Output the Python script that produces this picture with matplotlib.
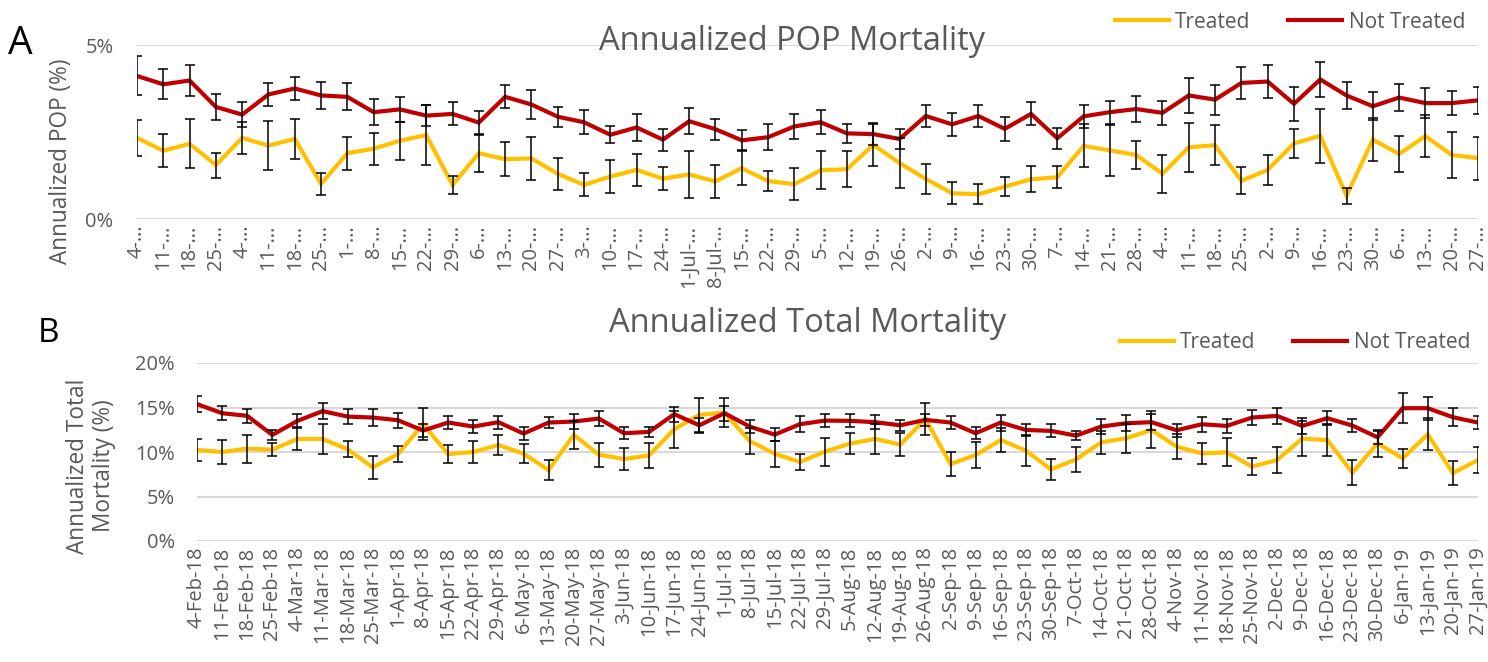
import matplotlib
matplotlib.use("Agg")
import matplotlib.pyplot as plt
from matplotlib.lines import Line2D
import numpy as np

plt.rcParams['font.family'] = ['Open Sans', 'DejaVu Sans']

# week labels
weeks = ["4-Feb-18", "11-Feb-18", "18-Feb-18", "25-Feb-18", "4-Mar-18", "11-Mar-18",
         "18-Mar-18", "25-Mar-18", "1-Apr-18", "8-Apr-18", "15-Apr-18", "22-Apr-18",
         "29-Apr-18", "6-May-18", "13-May-18", "20-May-18", "27-May-18", "3-Jun-18",
         "10-Jun-18", "17-Jun-18", "24-Jun-18", "1-Jul-18", "8-Jul-18", "15-Jul-18",
         "22-Jul-18", "29-Jul-18", "5-Aug-18", "12-Aug-18", "19-Aug-18", "26-Aug-18",
         "2-Sep-18", "9-Sep-18", "16-Sep-18", "23-Sep-18", "30-Sep-18", "7-Oct-18",
         "14-Oct-18", "21-Oct-18", "28-Oct-18", "4-Nov-18", "11-Nov-18", "18-Nov-18",
         "25-Nov-18", "2-Dec-18", "9-Dec-18", "16-Dec-18", "23-Dec-18", "30-Dec-18",
         "6-Jan-19", "13-Jan-19", "20-Jan-19", "27-Jan-19"]

# truncated labels as shown on panel A
weeks_short = ["4-…", "11-…", "18-…", "25-…", "4-…", "11-…", "18-…", "25-…", "1-…",
               "8-…", "15-…", "22-…", "29-…", "6-…", "13-…", "20-…", "27-…", "3-…",
               "10-…", "17-…", "24-…", "1-Jul-…", "8-Jul-…", "15-…", "22-…", "29-…",
               "5-…", "12-…", "19-…", "26-…", "2-…", "9-…", "16-…", "23-…", "30-…",
               "7-…", "14-…", "21-…", "28-…", "4-…", "11-…", "18-…", "25-…", "2-…",
               "9-…", "16-…", "23-…", "30-…", "6-…", "13-…", "20-…", "27-…"]

# Panel A: annualized POP mortality (%)
pop_treated = [2.33, 1.96, 2.16, 1.55, 2.33, 2.11, 2.30, 1.01, 1.89, 2.02, 2.25, 2.41,
               0.98, 1.89, 1.72, 1.74, 1.30, 0.98, 1.22, 1.41, 1.16, 1.28, 1.08, 1.46,
               1.09, 1.00, 1.40, 1.43, 2.13, 1.61, 1.15, 0.74, 0.71, 0.93, 1.14, 1.20,
               2.10, 1.97, 1.84, 1.30, 2.06, 2.12, 1.10, 1.41, 2.17, 2.39, 0.67, 2.28,
               1.87, 2.38, 1.84, 1.75]
pop_treated_err = [0.51, 0.48, 0.70, 0.36, 0.46, 0.70, 0.57, 0.31, 0.47, 0.46, 0.55, 0.87,
                   0.27, 0.53, 0.49, 0.61, 0.46, 0.33, 0.47, 0.46, 0.32, 0.67, 0.47, 0.49,
                   0.28, 0.46, 0.54, 0.52, 0.62, 0.72, 0.44, 0.31, 0.29, 0.28, 0.37, 0.31,
                   0.62, 0.73, 0.39, 0.54, 0.70, 0.58, 0.38, 0.43, 0.43, 0.77, 0.23, 0.62,
                   0.51, 0.61, 0.67, 0.62]
pop_not = [4.11, 3.87, 3.98, 3.22, 3.00, 3.58, 3.75, 3.55, 3.51, 3.07, 3.15, 2.97,
           3.02, 2.77, 3.51, 3.29, 2.94, 2.78, 2.42, 2.63, 2.28, 2.81, 2.58, 2.26,
           2.35, 2.66, 2.78, 2.46, 2.44, 2.30, 2.96, 2.72, 2.96, 2.59, 3.02, 2.32,
           2.95, 3.07, 3.16, 3.05, 3.55, 3.43, 3.91, 3.95, 3.31, 4.01, 3.55, 3.24,
           3.49, 3.33, 3.33, 3.41]
pop_not_err = [0.56, 0.43, 0.45, 0.38, 0.35, 0.33, 0.33, 0.38, 0.39, 0.37, 0.35, 0.31,
               0.33, 0.32, 0.33, 0.41, 0.29, 0.35, 0.25, 0.38, 0.32, 0.37, 0.30, 0.29,
               0.38, 0.36, 0.34, 0.28, 0.30, 0.30, 0.32, 0.33, 0.32, 0.35, 0.33, 0.30,
               0.33, 0.33, 0.37, 0.35, 0.49, 0.43, 0.45, 0.47, 0.48, 0.50, 0.38, 0.40,
               0.38, 0.43, 0.35, 0.39]

# Panel B: annualized total mortality (%)
tot_treated = [10.23, 10.00, 10.38, 10.26, 11.47, 11.47, 10.30, 8.27, 9.77, 13.12, 9.77, 10.00,
               10.79, 9.81, 7.97, 11.92, 9.70, 9.21, 9.62, 12.56, 14.17, 14.44, 11.24, 9.81,
               8.87, 10.04, 10.94, 11.47, 10.83, 13.72, 8.65, 9.66, 11.35, 10.15, 8.05, 9.17,
               11.09, 11.54, 12.48, 10.60, 9.85, 9.96, 8.35, 9.10, 11.50, 11.35, 7.67, 10.98,
               9.29, 11.99, 7.63, 9.10]
tot_treated_err = [1.20, 1.30, 1.58, 0.70, 1.24, 1.65, 0.88, 1.32, 0.94, 1.80, 1.05, 1.24,
                   1.10, 1.07, 1.13, 1.60, 1.35, 1.25, 1.38, 2.10, 1.90, 1.60, 1.45, 1.47,
                   0.85, 1.58, 1.18, 1.70, 1.25, 1.77, 1.40, 1.50, 1.40, 1.73, 1.15, 1.40,
                   1.30, 1.60, 2.08, 1.40, 1.20, 1.56, 0.98, 1.42, 2.00, 1.75, 1.40, 1.50,
                   1.05, 1.82, 1.37, 1.43]
tot_not = [15.38, 14.36, 14.06, 11.92, 13.50, 14.59, 13.98, 13.87, 13.57, 12.41, 13.31, 12.86,
           13.35, 12.07, 13.31, 13.42, 13.76, 12.11, 12.26, 14.25, 13.00, 14.36, 12.86, 11.95,
           13.12, 13.53, 13.50, 13.35, 13.00, 13.61, 13.31, 12.11, 13.31, 12.48, 12.37, 11.84,
           12.86, 13.23, 13.35, 12.44, 13.12, 12.93, 13.87, 14.06, 12.93, 13.80, 12.97, 11.65,
           14.92, 14.92, 13.91, 13.31]
tot_not_err = [0.92, 0.81, 0.82, 0.56, 0.73, 0.90, 0.82, 0.92, 0.85, 0.70, 0.73, 0.73,
               0.74, 0.75, 0.60, 0.85, 0.80, 0.68, 0.60, 0.85, 0.81, 0.85, 0.70, 0.72,
               0.90, 0.76, 0.72, 0.79, 0.62, 0.70, 0.75, 0.70, 0.90, 0.65, 0.73, 0.50,
               0.82, 0.90, 0.90, 0.72, 0.85, 0.77, 0.88, 0.92, 0.88, 0.80, 0.77, 0.75,
               1.70, 1.30, 1.00, 0.77]

YELLOW = '#FFC000'
RED = '#C00000'
GRAY = '#595959'
GRID = '#D9D9D9'

W, H = 1488, 662
fig = plt.figure(figsize=(W / 100, H / 100), dpi=100)


def box(l, t, r, b):
    return [l / W, 1 - b / H, (r - l) / W, (b - t) / H]


axA = fig.add_axes(box(137, 45, 1478, 219))
axB = fig.add_axes(box(197, 363, 1478, 541))

x = np.arange(len(weeks))


def draw(ax, t, t_err, n, n_err, ymax, ticks, labels, ypad):
    ax.plot(x, t, color=YELLOW, lw=3, zorder=2, solid_joinstyle='miter')
    ax.plot(x, n, color=RED, lw=3, zorder=2, solid_joinstyle='miter')
    for y, e in ((t, t_err), (n, n_err)):
        ax.errorbar(x, y, yerr=e, fmt='none', ecolor='black', elinewidth=1.1,
                    capsize=3.4, capthick=1.1, zorder=3)
    ax.set_xlim(0, len(x) - 1)
    ax.set_ylim(0, ymax)
    ax.set_yticks(ticks)
    ax.set_yticklabels([f"{v}%" for v in ticks])
    ax.set_xticks(x)
    ax.set_xticklabels(labels, rotation=90, va='top', ha='center')
    ax.grid(axis='y', color=GRID, lw=1.5)
    ax.set_axisbelow(True)
    for s in ax.spines.values():
        s.set_visible(False)
    ax.tick_params(length=0, labelsize=14.5, colors=GRAY)
    ax.tick_params(axis='x', pad=4)
    ax.tick_params(axis='y', pad=ypad)


draw(axA, pop_treated, pop_treated_err, pop_not, pop_not_err, 5, [0, 5], weeks_short, 17)
draw(axB, tot_treated, tot_treated_err, tot_not, tot_not_err, 20, [0, 5, 10, 15, 20], weeks, 16)

# titles
fig.text(792 / W, 1 - 41 / H, "Annualized POP Mortality", ha='center', va='center',
         fontsize=23.5, color=GRAY)
fig.text(808 / W, 1 - 324 / H, "Annualized Total Mortality", ha='center', va='center',
         fontsize=23.5, color=GRAY)

# axis labels
fig.text(61 / W, 1 - 161 / H, "Annualized POP (%)", rotation=90, ha='center', va='center',
         fontsize=16.3, color=GRAY)
fig.text(91 / W, 1 - 466 / H, "Annualized Total\nMortality (%)", rotation=90, ha='center',
         va='center', fontsize=16.3, color=GRAY, linespacing=1.1)

# panel letters
fig.text(8 / W, 1 - 44 / H, "A", fontsize=28, va='center', ha='left', color='black')
fig.text(38 / W, 1 - 334 / H, "B", fontsize=24, va='center', ha='left', color='black')

# legends
handles = [Line2D([], [], color=YELLOW, lw=3), Line2D([], [], color=RED, lw=3)]
for yy, xr in ((22, 1465), (343, 1470)):
    fig.legend(handles, ["Treated", "Not Treated"], loc='center right',
               bbox_to_anchor=(xr / W, 1 - yy / H), ncol=2, frameon=False,
               fontsize=15, labelcolor=GRAY, handlelength=2.6, handletextpad=0.3,
               columnspacing=1.8, borderaxespad=0, borderpad=0)

fig.savefig("out.png", dpi=100)
